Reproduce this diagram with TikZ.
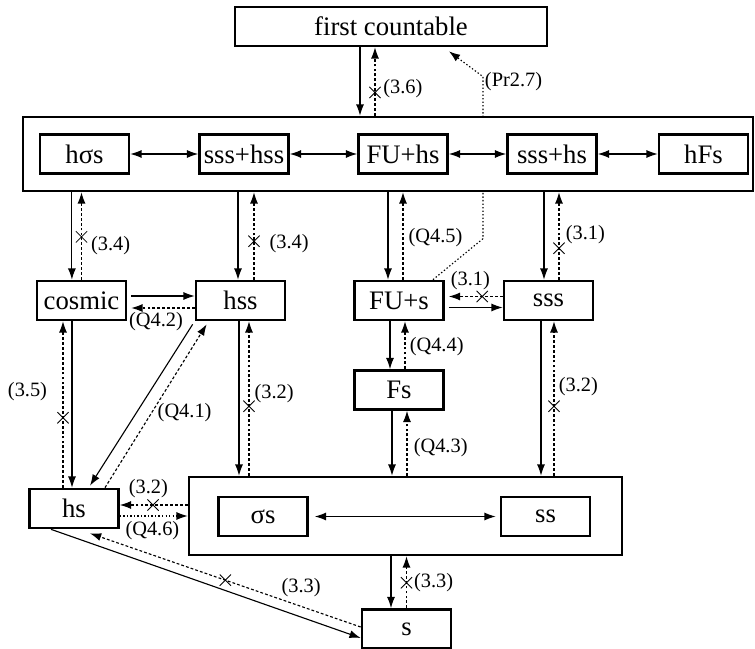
\documentclass[tikz,border=0pt]{standalone}
\usepackage{fontspec}
\setmainfont{Liberation Serif}
\usetikzlibrary{arrows.meta,shapes.misc,backgrounds,positioning}

\newcommand\boxfont{\fontsize{19}{21}\selectfont}
\newcommand\lblfont{\fontsize{14.5}{16}\selectfont}

\tikzset{
	cls/.style={draw, line width=1.9pt, fill=white,
		minimum width=2.225cm, minimum height=0.975cm,
		inner sep=1pt, font=\boxfont},
	grp/.style={draw, line width=1.9pt, fill=white},
	imp/.style={line width=0.8pt, -{Latex[length=2.8mm,width=2mm]}},
	nimp/.style={imp, dash pattern=on 2pt off 1.5pt},
	qimp/.style={imp, dash pattern=on 1pt off 1.5pt},
	eqv/.style={line width=0.8pt,
		{Latex[length=2.8mm,width=2mm]}-{Latex[length=2.8mm,width=2mm]}},
	xmark/.style={draw, solid, cross out, minimum size=0.26cm, inner sep=0pt, line width=0.6pt},
	lbl/.style={font=\lblfont, inner sep=1pt},
}

\begin{document}
\begin{tikzpicture}
		\useasboundingbox (0,0) rectangle (18.875,16.225);
		% first countable
		\node[cls, minimum width=7.8cm] (fc) at (9.775,15.5625) {first countable};
		% upper group
		\node[grp, minimum width=18.25cm, minimum height=1.85cm] (upper) at (9.7,12.375) {};
		\node[cls] (hsigmas) at (2.1125,12.375) {hσs};
		\node[cls] (ssshss) at (6.1,12.375) {sss+hss};
		\node[cls] (fuhs) at (10.075,12.375) {FU+hs};
		\node[cls] (ssshs) at (13.8,12.375) {sss+hs};
		\node[cls] (hfs) at (17.5875,12.375) {hFs};
		% middle row
		\node[cls] (cosmic) at (2.0375,8.7125) {cosmic};
		\node[cls] (hss) at (6.0125,8.7125) {hss};
		\node[cls] (fus) at (9.975,8.7125) {FU+s};
		\node[cls] (sss) at (13.7125,8.7125) {sss};
		\node[cls] (fs) at (9.975,6.475) {Fs};
		% lower group
		\node[cls] (hs) at (1.85,3.5125) {hs};
		\node[grp, minimum width=10.825cm, minimum height=1.95cm] (lower) at (10.1375,3.325) {};
		\node[cls] (sigmas) at (6.575,3.3125) {σs};
		\node[cls] (ss) at (13.6375,3.3125) {ss};
		\node[cls] (s) at (10.1625,0.5) {s};

		% Pr2.7, behind the upper group
		\begin{scope}[on background layer]
			\draw[qimp] ([xshift=0.85cm]fus.north) -- ++(1.25,1.025) -- ++(0,4.05)
			node[lbl, right, yshift=-0.12cm] (lpr27) {(Pr2.7)}
			-- ([xshift=1.45cm,yshift=-0.1cm]fc.south);
		\end{scope}

		% first countable <-> upper group
		\draw[imp] ([xshift=-0.775cm]fc.south) -- ([xshift=-0.775cm]fc.south |- upper.north);
		\draw[nimp] ([xshift=-0.4cm]fc.south |- upper.north) -- ([xshift=-0.4cm]fc.south)
		node[xmark, pos=0.34] (x36) {}
		node[lbl, pos=0.39, anchor=west, xshift=0.16cm] (l36) {(3.6)};

		% upper group -> middle row
		\draw[imp] ([xshift=-0.24cm]cosmic.north |- upper.south) -- ([xshift=-0.24cm]cosmic.north);
		\draw[nimp] (cosmic.north) -- (cosmic.north |- upper.south)
		node[xmark, pos=0.49] (x34a) {}
		node[lbl, pos=0.39, anchor=west, xshift=0.19cm] (l34a) {(3.4)};

		\draw[imp] ([xshift=-0.0625cm]hss.north |- upper.south) -- ([xshift=-0.0625cm]hss.north);
		\draw[nimp] ([xshift=0.3375cm]hss.north) -- ([xshift=0.3375cm]hss.north |- upper.south)
		node[xmark, pos=0.44] (x34b) {}
		node[lbl, pos=0.41, anchor=west, xshift=0.34cm] (l34b) {(3.4)};

		\draw[imp] ([xshift=-0.275cm]fus.north |- upper.south) -- ([xshift=-0.275cm]fus.north);
		\draw[nimp] ([xshift=0.1cm]fus.north) -- ([xshift=0.1cm]fus.north |- upper.south)
		node[lbl, pos=0.48, anchor=west, xshift=0.09cm] (lq45) {(Q4.5)};

		\draw[imp] ([xshift=-0.1125cm]sss.north |- upper.south) -- ([xshift=-0.1125cm]sss.north);
		\draw[nimp] ([xshift=0.2625cm]sss.north) -- ([xshift=0.2625cm]sss.north |- upper.south)
		node[xmark, pos=0.36] (x31a) {}
		node[lbl, pos=0.52, anchor=west, xshift=0.12cm] (l31a) {(3.1)};

		% middle row
		\draw[imp] ([xshift=0.1cm,yshift=0.1125cm]cosmic.east) -- ([yshift=0.1125cm]cosmic.east -| hss.west);
		\draw[nimp] ([yshift=-0.1875cm]hss.west) -- ([xshift=0.1cm,yshift=-0.1875cm]hss.west -| cosmic.east)
		node[lbl, pos=0.61, below=0.05cm] (lq42) {(Q4.2)};

		\draw[nimp] ([yshift=0.1cm]sss.west) -- ([xshift=0.1cm,yshift=0.1cm]sss.west -| fus.east)
		node[xmark, pos=0.38] (x31b) {}
		node[lbl, pos=0.6, above=0.12cm] (l31b) {(3.1)};
		\draw[imp] ([xshift=0.1cm,yshift=-0.175cm]fus.east) -- ([yshift=-0.175cm]fus.east -| sss.west);

		\draw[imp] ([xshift=-0.225cm]fus.south) -- ([xshift=-0.225cm]fs.north);
		\draw[nimp] ([xshift=0.15cm]fs.north) -- ([xshift=0.15cm]fus.south)
		node[lbl, pos=0.48, anchor=west, xshift=0.07cm] (lq44) {(Q4.4)};

		% middle row -> lower group
		\draw[imp] ([xshift=-0.175cm]fs.south) -- ([xshift=-0.175cm]fs.south |- lower.north);
		\draw[nimp] ([xshift=0.2cm]fs.south |- lower.north) -- ([xshift=0.2cm]fs.south)
		node[lbl, pos=0.43, anchor=west, xshift=0.12cm] (lq43) {(Q4.3)};

		\draw[imp] ([xshift=-0.1875cm]sss.south) -- ([xshift=-0.1875cm]sss.south |- lower.north);
		\draw[nimp] ([xshift=0.1375cm]sss.south |- lower.north) -- ([xshift=0.1375cm]sss.south)
		node[xmark, pos=0.45] (x32a) {}
		node[lbl, pos=0.58, anchor=west, xshift=0.07cm] (l32a) {(3.2)};

		\draw[imp] ([xshift=-0.0375cm]hss.south) -- ([xshift=-0.0375cm]hss.south |- lower.north);
		\draw[nimp] ([xshift=0.2125cm]hss.south |- lower.north) -- ([xshift=0.2125cm]hss.south)
		node[xmark, pos=0.45] (x32b) {}
		node[lbl, pos=0.53, anchor=west, xshift=0.09cm] (l32b) {(3.2)};

		% cosmic, hss -> hs
		\draw[imp] ([xshift=-0.05cm]hs.north |- cosmic.south) -- ([xshift=-0.05cm]hs.north);
		\draw[nimp] ([xshift=-0.275cm]hs.north) -- ([xshift=-0.275cm]hs.north |- cosmic.south)
		node[xmark, pos=0.42] (x35) {}
		node[lbl, pos=0.58, anchor=east, xshift=-0.35cm] (l35) {(3.5)};

		\draw[imp] ([xshift=-0.05cm,yshift=-0.075cm]hss.south west) -- ([xshift=0.4cm,yshift=0.05cm]hs.north);
		\draw[nimp] ([xshift=0.775cm]hs.north) -- ([xshift=0.3cm,yshift=-0.075cm]hss.south west)
		node[lbl, pos=0.46, anchor=west, xshift=0.1cm] (lq41) {(Q4.1)};

		% lower group <-> hs
		\draw[nimp] ([yshift=0.0875cm]hs.east -| lower.west) -- ([yshift=0.0875cm]hs.east)
		node[xmark, pos=0.51] (x32c) {}
		node[lbl, pos=0.58, above=0.12cm] (l32c) {(3.2)};
		\draw[qimp] ([yshift=-0.1875cm]hs.east) -- ([yshift=-0.1875cm]hs.east -| lower.west)
		node[lbl, pos=0.48, below=0.08cm] (lq46) {(Q4.6)};

		% sigma s <-> ss
		\draw[eqv] ([xshift=0.15cm]sigmas.east) -- ([xshift=-0.1cm]ss.west);

		% hs <-> s
		\draw[imp] ([xshift=-0.575cm]hs.south) -- ([yshift=-0.225cm]s.west);
		\draw[nimp] ([yshift=0.05cm]s.west) -- ([xshift=0.4cm,yshift=-0.1cm]hs.south)
		node[xmark, pos=0.5] (x33a) {}
		node[lbl, pos=0.22, above=0.2cm] (l33a) {(3.3)};

		% lower group <-> s
		\draw[imp] ([xshift=-0.3875cm]s.north |- lower.south) -- ([xshift=-0.3875cm]s.north);
		\draw[nimp] (s.north) -- (s.north |- lower.south)
		node[xmark, pos=0.49] (x33b) {}
		node[lbl, pos=0.49, anchor=west, xshift=0.14cm] (l33b) {(3.3)};

		% upper row equivalences
		\draw[eqv] (hsigmas.east) -- (ssshss.west);
		\draw[eqv] (ssshss.east) -- (fuhs.west);
		\draw[eqv] (fuhs.east) -- (ssshs.west);
		\draw[eqv] (ssshs.east) -- (hfs.west);
\end{tikzpicture}
\end{document}
